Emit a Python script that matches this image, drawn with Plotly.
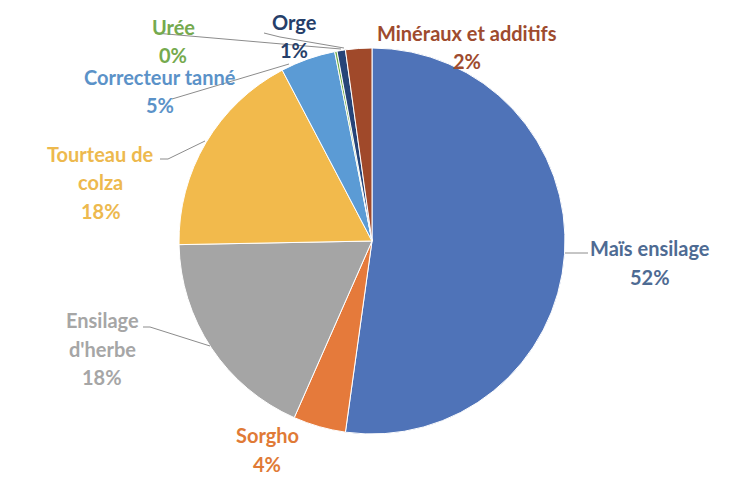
import plotly.graph_objects as go

labels = ["Maïs ensilage", "Sorgho", "Ensilage d'herbe", "Tourteau de colza",
          "Correcteur tanné", "Urée", "Orge", "Minéraux et additifs"]
values = [52.2, 4.4, 18.1, 17.6, 4.6, 0.2, 0.7, 2.2]
slice_colors = ["#4F73B8", "#E57A3B", "#A5A5A5", "#F2BA4C",
                "#5B9BD5", "#70AD47", "#264478", "#A0492A"]
text_colors = ["#4E6B93", "#E07A36", "#A6A6A6", "#EDB94E",
               "#5B92C8", "#75AA4E", "#263F6A", "#9E4B2E"]
# label lines (split as displayed)
label_lines = [["Maïs ensilage"], ["Sorgho"], ["Ensilage", "d'herbe"],
               ["Tourteau de", "colza"], ["Correcteur tanné"], ["Urée"],
               ["Orge"], ["Minéraux et additifs"]]
# label centre of first line in pixels
label_pos = [(650, 248), (267, 435), (102, 320), (101, 154),
             (160, 77), (173, 27), (294, 22), (467, 33)]
# leader lines in pixels
leaders = [
    [(565, 253), (588, 253)],
    None,
    [(143, 327), (150, 327), (210, 346)],
    [(160, 159), (168, 159), (205, 141)],
    [(172, 99), (289, 64)],
    [(155, 33), (282, 44), (341, 49)],
    [(264, 33), (280, 37), (344, 48)],
    None,
]

W, H = 747, 478
cx, cy, r = 372, 241, 193
LINE = 28.5

def px(x):
    return x / W

def py(y):
    return 1 - y / H

total = sum(values)
fig = go.Figure(go.Pie(
    labels=labels, values=values, sort=False, direction="clockwise",
    rotation=0, textinfo="none", hoverinfo="label+percent",
    marker=dict(colors=slice_colors, line=dict(color="white", width=1)),
    domain=dict(x=[px(cx - r), px(cx + r)], y=[py(cy + r), py(cy - r)]),
    showlegend=False,
))

annotations = []
for name_lines, v, col, (lx, ly) in zip(label_lines, values, text_colors, label_pos):
    pct = f"{round(v / total * 100)}%"
    for i, t in enumerate(name_lines + [pct]):
        annotations.append(dict(
            x=px(lx), y=py(ly + i * LINE), xref="paper", yref="paper",
            text=f"<b>{t}</b>", showarrow=False, xanchor="center", yanchor="middle",
            font=dict(family="Lato", size=20, color=col)))

shapes = []
for seg in leaders:
    if not seg:
        continue
    for (x0, y0), (x1, y1) in zip(seg[:-1], seg[1:]):
        shapes.append(dict(type="line", xref="paper", yref="paper",
                           x0=px(x0), y0=py(y0), x1=px(x1), y1=py(y1),
                           line=dict(color="#8C8C8C", width=1)))

fig.update_layout(width=W, height=H, margin=dict(l=0, r=0, t=0, b=0),
                  paper_bgcolor="white", plot_bgcolor="white",
                  annotations=annotations, shapes=shapes)
fig.write_html("out.html", config={"displayModeBar": False},
               post_script="document.body.style.margin='0px';document.body.style.overflow='hidden';")
